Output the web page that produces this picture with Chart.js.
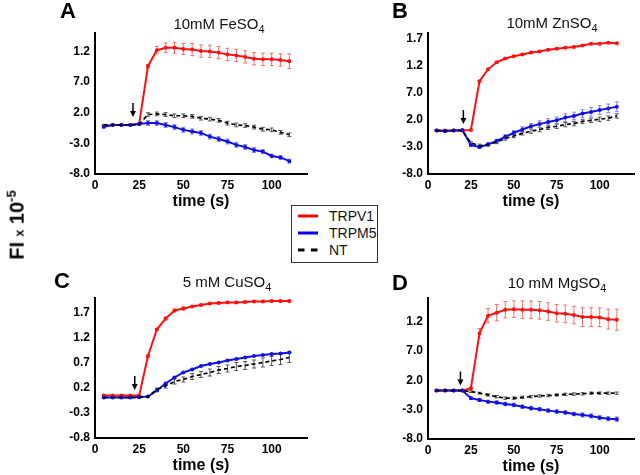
<!DOCTYPE html>
<html>
<head>
<meta charset="utf-8">
<script src="https://cdn.jsdelivr.net/npm/chart.js@4.4.0/dist/chart.umd.min.js"></script>
<style>
  html, body { margin: 0; padding: 0; background: #fff; }
  #wrap { position: relative; width: 640px; height: 475px; overflow: hidden;
          font-family: "Liberation Sans", Arial, sans-serif; color: #000; }
  canvas { position: absolute; left: 0; top: 0; pointer-events: none; }
  .lbl { position: absolute; transform: translate(-50%, -50%); white-space: nowrap; }
  .letter { font-weight: bold; font-size: 22px; }
  .ttl { font-size: 15px; color: #111; }
  .ttl span { font-size: 11px; position: relative; top: 4px; }
</style>
</head>
<body>
<div id="wrap">
  <canvas id="chartA" width="640" height="475"></canvas>
  <canvas id="chartB" width="640" height="475"></canvas>
  <canvas id="chartC" width="640" height="475"></canvas>
  <canvas id="chartD" width="640" height="475"></canvas>

  <div class="lbl letter" style="left:68px;top:11px">A</div>
  <div class="lbl letter" style="left:400px;top:11px">B</div>
  <div class="lbl letter" style="left:62px;top:281px">C</div>
  <div class="lbl letter" style="left:400px;top:283px">D</div>

  <div class="lbl ttl" style="left:219px;top:23px">10mM FeSO<span>4</span></div>
  <div class="lbl ttl" style="left:552px;top:22px">10mM ZnSO<span>4</span></div>
  <div class="lbl ttl" style="left:227px;top:281px">5 mM CuSO<span>4</span></div>
  <div class="lbl ttl" style="left:557px;top:282px">10 mM MgSO<span>4</span></div>

  <div class="lbl" style="left:16px;top:225px;transform:translate(-50%,-50%) rotate(-90deg);font-weight:bold;font-size:20px">FI <span style="font-size:12px">x</span> 10<sup style="font-size:13px">-5</sup></div>

  <svg style="position:absolute;left:291px;top:205px" width="88" height="59">
    <rect x="0.5" y="0.5" width="86" height="57" fill="#fff" stroke="#333"/>
    <line x1="7" y1="11" x2="27" y2="11" stroke="#ff0000" stroke-width="3"/>
    <line x1="7" y1="28" x2="27" y2="28" stroke="#0000ff" stroke-width="3"/>
    <line x1="7" y1="45" x2="27" y2="45" stroke="#000" stroke-width="3" stroke-dasharray="6.5,6.5"/>
    <text x="38" y="16" font-size="14" fill="#111">TRPV1</text>
    <text x="38" y="33" font-size="14" fill="#111">TRPM5</text>
    <text x="38" y="50" font-size="14" fill="#111">NT</text>
  </svg>
</div>

<script>
const times = [5, 10, 15, 20, 25, 30, 35, 40, 45, 50, 55, 60, 65, 70, 75, 80, 85, 90, 95, 100, 105, 110];
const xTicks = [0, 25, 50, 75, 100];

// A: 10mM FeSO4
const redA = [-0.2, 0, 0, 0, 0.2, 9.6, 12.2, 12.6, 12.6, 12.4, 12.3, 12.05, 12.0, 11.8, 11.5, 11.35, 11.1, 10.8, 10.7, 10.7, 10.6, 10.4];
const redErrA = [0.1, 0.1, 0.1, 0.1, 0.1, 0.3, 0.6, 0.8, 0.9, 0.9, 1.0, 1.0, 1.0, 1.0, 1.0, 1.0, 1.0, 1.0, 1.0, 1.0, 1.0, 1.2];
const blueA = [-0.3, 0, 0, 0, 0.15, 0.3, 0.3, 0.0, -0.35, -0.8, -1.05, -1.3, -1.9, -2.3, -2.7, -3.25, -3.6, -4.1, -4.35, -5.05, -5.3, -5.9];
const blueErrA = [0.2, 0.1, 0.1, 0.1, 0.1, 0.4, 0.4, 0.4, 0.4, 0.4, 0.4, 0.4, 0.4, 0.4, 0.4, 0.4, 0.4, 0.4, 0.3, 0.3, 0.3, 0.3];
const ntA = [0, 0, 0, 0, 0.1, 1.7, 1.8, 1.7, 1.5, 1.5, 1.4, 1.1, 0.95, 0.75, 0.3, 0.0, -0.1, -0.35, -0.7, -0.8, -1.2, -1.6];
const ntErrA = [0.1, 0.1, 0.1, 0.1, 0.1, 0.3, 0.3, 0.3, 0.3, 0.3, 0.3, 0.3, 0.3, 0.3, 0.3, 0.3, 0.3, 0.3, 0.3, 0.3, 0.3, 0.3];
const yTicksA = [-8, -3, 2, 7, 12];
const yLabelsA = ['-8.0', '-3.0', '2.0', '7.0', '1.2'];

// B: 10mM ZnSO4
const redB = [0, 0, 0, 0, 0.1, 9.1, 11.3, 12.6, 13.3, 13.7, 14.05, 14.4, 14.6, 14.9, 15.1, 15.3, 15.4, 15.7, 16.0, 16.0, 16.2, 16.1];
const redErrB = [0.1, 0.1, 0.1, 0.1, 0.1, 0.15, 0.15, 0.15, 0.15, 0.15, 0.15, 0.15, 0.15, 0.15, 0.15, 0.15, 0.15, 0.15, 0.15, 0.15, 0.15, 0.15];
const blueB = [0, -0.1, 0, 0.1, -2.67, -3.0, -2.55, -1.9, -1.14, -0.4, 0.2, 0.8, 1.2, 1.6, 1.9, 2.4, 2.7, 3.15, 3.45, 3.8, 4.1, 4.4];
const blueErrB = [0.1, 0.1, 0.1, 0.1, 0.2, 0.3, 0.3, 0.3, 0.4, 0.4, 0.5, 0.5, 0.6, 0.6, 0.6, 0.7, 0.7, 0.7, 0.8, 0.8, 0.8, 0.9];
const ntB = [0, 0, 0, 0, -2.25, -2.8, -2.55, -2.1, -1.45, -1.0, -0.5, -0.1, 0.2, 0.6, 0.8, 1.1, 1.3, 1.7, 1.9, 2.1, 2.3, 2.7];
const ntErrB = [0.1, 0.1, 0.1, 0.1, 0.2, 0.3, 0.3, 0.3, 0.3, 0.3, 0.3, 0.4, 0.4, 0.4, 0.4, 0.4, 0.4, 0.4, 0.4, 0.4, 0.4, 0.4];
const yTicksB = [-8, -3, 2, 7, 12, 17];
const yLabelsB = ['-8.0', '-3.0', '2.0', '7.0', '1.2', '1.7'];

// C: 5 mM CuSO4
const redC = [0.05, 0.05, 0.05, 0.05, 0.05, 0.84, 1.37, 1.59, 1.75, 1.79, 1.83, 1.86, 1.89, 1.9, 1.91, 1.91, 1.92, 1.93, 1.93, 1.94, 1.94, 1.94];
const redErrC = [0.01, 0.01, 0.01, 0.01, 0.01, 0.02, 0.02, 0.03, 0.03, 0.03, 0.02, 0.02, 0.02, 0.02, 0.02, 0.02, 0.02, 0.02, 0.02, 0.02, 0.02, 0.02];
const blueC = [0.01, 0.01, 0.01, 0.01, 0.02, 0.03, 0.15, 0.29, 0.41, 0.51, 0.57, 0.64, 0.68, 0.71, 0.75, 0.78, 0.81, 0.84, 0.86, 0.88, 0.89, 0.91];
const blueErrC = [0.01, 0.01, 0.01, 0.01, 0.01, 0.01, 0.01, 0.01, 0.01, 0.01, 0.01, 0.01, 0.01, 0.01, 0.01, 0.01, 0.01, 0.01, 0.01, 0.01, 0.01, 0.01];
const ntC = [0.01, 0.01, 0.01, 0.01, 0.01, 0.03, 0.17, 0.24, 0.33, 0.37, 0.43, 0.47, 0.51, 0.56, 0.59, 0.63, 0.65, 0.68, 0.71, 0.74, 0.77, 0.81];
const ntErrC = [0.01, 0.01, 0.01, 0.01, 0.01, 0.02, 0.03, 0.04, 0.05, 0.05, 0.06, 0.06, 0.07, 0.07, 0.07, 0.08, 0.08, 0.08, 0.09, 0.09, 0.1, 0.1];
const yTicksC = [-0.8, -0.3, 0.2, 0.7, 1.2, 1.7];
const yLabelsC = ['-0.8', '-0.3', '0.2', '0.7', '1.2', '1.7'];

// D: 10 mM MgSO4
const redD = [0.24, 0.24, 0.24, 0.24, 0.65, 10.0, 13.0, 13.5, 14.0, 14.1, 14.0, 14.0, 13.9, 13.7, 13.4, 13.3, 13.1, 12.75, 12.75, 12.7, 12.4, 12.3];
const redErrD = [0.1, 0.1, 0.1, 0.1, 0.1, 0.8, 1.2, 1.4, 1.4, 1.4, 1.5, 1.5, 1.5, 1.5, 1.5, 1.5, 1.5, 1.6, 1.6, 1.6, 1.7, 1.8];
const blueD = [0.24, 0.24, 0.24, 0.24, -1.05, -1.35, -1.64, -1.8, -2.03, -2.2, -2.5, -2.77, -2.93, -3.17, -3.34, -3.5, -3.74, -3.9, -4.08, -4.37, -4.54, -4.64];
const blueErrD = [0.1, 0.1, 0.1, 0.1, 0.2, 0.25, 0.25, 0.3, 0.3, 0.3, 0.3, 0.3, 0.3, 0.3, 0.3, 0.3, 0.3, 0.35, 0.35, 0.35, 0.35, 0.4];
const ntD = [0.24, 0.24, 0.24, 0.24, 0.07, -0.2, -0.5, -0.8, -1.05, -1.05, -0.9, -0.8, -0.67, -0.6, -0.5, -0.4, -0.35, -0.3, -0.2, -0.2, -0.2, -0.2];
const ntErrD = [0.1, 0.1, 0.1, 0.1, 0.15, 0.15, 0.2, 0.2, 0.2, 0.2, 0.2, 0.2, 0.2, 0.2, 0.2, 0.2, 0.2, 0.2, 0.2, 0.2, 0.2, 0.2];
const yTicksD = [-8, -3, 2, 7, 12];
const yLabelsD = ['-8.0', '-3.0', '2.0', '7.0', '1.2'];

// stimulus arrows: x position (s) and y value of the tip
const arrowX = [21.5, 20.6, 22.5, 18.9];
const arrowTip = [1.3, 1.2, 0.16, 1.1];

const tickFont = { family: '"Liberation Sans", Arial, sans-serif', size: 12, weight: 'bold' };

function pts(vals) {
  return times.map((t, i) => ({ x: t, y: vals[i] }));
}

function makePanel(id, area, yMin, yMax, yTicks, yLabels, red, redErr, blue, blueErr, nt, ntErr, k) {
  const yW = 40, xH = 37;
  const extras = {
    id: 'extras' + id,
    beforeDatasetsDraw(chart) {
      const ctx = chart.ctx, xs = chart.scales.x, ys = chart.scales.y;
      chart.data.datasets.forEach(ds => {
        ctx.save();
        ctx.strokeStyle = ds.errColor;
        ctx.lineWidth = 1;
        ds.data.forEach((p, i) => {
          const e = ds.errors[i];
          const px = xs.getPixelForValue(p.x);
          const t = ys.getPixelForValue(p.y + e), b = ys.getPixelForValue(p.y - e);
          ctx.beginPath();
          ctx.moveTo(px, t); ctx.lineTo(px, b);
          ctx.moveTo(px - 2, t); ctx.lineTo(px + 2, t);
          ctx.moveTo(px - 2, b); ctx.lineTo(px + 2, b);
          ctx.stroke();
        });
        ctx.restore();
      });
    },
    afterDatasetsDraw(chart) {
      const ctx = chart.ctx, xs = chart.scales.x, ys = chart.scales.y;
      const px = xs.getPixelForValue(arrowX[k]);
      const tip = ys.getPixelForValue(arrowTip[k]);
      ctx.save();
      ctx.strokeStyle = '#000';
      ctx.fillStyle = '#000';
      ctx.lineWidth = 1.5;
      ctx.beginPath();
      ctx.moveTo(px, tip - 14); ctx.lineTo(px, tip - 5);
      ctx.stroke();
      ctx.beginPath();
      ctx.moveTo(px - 3, tip - 6); ctx.lineTo(px + 3, tip - 6); ctx.lineTo(px, tip);
      ctx.closePath();
      ctx.fill();
      ctx.restore();
    }
  };

  const axisGrid = { display: true, drawOnChartArea: false, drawTicks: false };
  const axisBorder = { display: true, color: '#000', width: 2 };

  new Chart(document.getElementById(id), {
    type: 'line',
    data: {
      datasets: [
        { label: 'NT', data: pts(nt), errors: ntErr, errColor: '#555', borderColor: '#000',
          backgroundColor: '#000', borderWidth: 1.7, borderDash: [4, 3], pointRadius: 0 },
        { label: 'TRPM5', data: pts(blue), errors: blueErr, errColor: '#8080f0', borderColor: '#1010e8',
          backgroundColor: '#1010e8', borderWidth: 2, pointRadius: 1 },
        { label: 'TRPV1', data: pts(red), errors: redErr, errColor: '#f07070', borderColor: '#ff1010',
          backgroundColor: '#ff1010', borderWidth: 2, pointRadius: 1 }
      ]
    },
    options: {
      responsive: false,
      animation: false,
      layout: {
        padding: { left: area.left - yW, right: 640 - area.right, top: area.top, bottom: 475 - area.bottom - xH }
      },
      plugins: { legend: { display: false }, tooltip: { enabled: false } },
      scales: {
        x: {
          type: 'linear', min: 0, max: 120,
          afterBuildTicks: s => { s.ticks = xTicks.map(v => ({ value: v })); },
          afterFit: s => { s.height = xH; },
          grid: axisGrid,
          border: axisBorder,
          ticks: { font: tickFont, color: '#000', padding: 4, maxRotation: 0, autoSkip: false },
          title: { display: true, text: 'time (s)', color: '#000', padding: 0,
                   font: { family: '"Liberation Sans", Arial, sans-serif', size: 16, weight: 'bold' } }
        },
        y: {
          min: yMin, max: yMax,
          afterBuildTicks: s => { s.ticks = yTicks.map(v => ({ value: v })); },
          afterFit: s => { s.width = yW; },
          grid: axisGrid,
          border: axisBorder,
          ticks: { font: tickFont, color: '#000', padding: 5, autoSkip: false,
                   callback: (v, i) => yLabels[i] }
        }
      }
    },
    plugins: [extras]
  });
}

makePanel('chartA', { left: 95, right: 307, top: 33, bottom: 174 }, -8, 15, yTicksA, yLabelsA,
  redA, redErrA, blueA, blueErrA, ntA, ntErrA, 0);
makePanel('chartB', { left: 428, right: 638, top: 33, bottom: 174 }, -8, 18, yTicksB, yLabelsB,
  redB, redErrB, blueB, blueErrB, ntB, ntErrB, 1);
makePanel('chartC', { left: 95, right: 307, top: 298, bottom: 438 }, -0.8, 2.0, yTicksC, yLabelsC,
  redC, redErrC, blueC, blueErrC, ntC, ntErrC, 2);
makePanel('chartD', { left: 428, right: 638, top: 298, bottom: 439 }, -8, 16, yTicksD, yLabelsD,
  redD, redErrD, blueD, blueErrD, ntD, ntErrD, 3);
</script>
</body>
</html>
